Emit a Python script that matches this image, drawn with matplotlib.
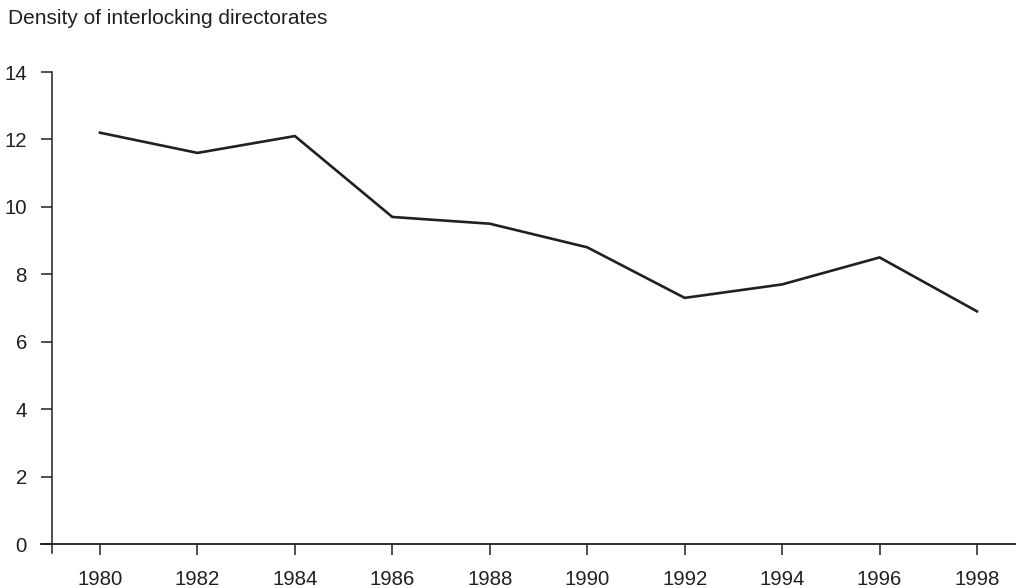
import matplotlib
matplotlib.use("Agg")
import matplotlib.pyplot as plt

years = [1980, 1982, 1984, 1986, 1988, 1990, 1992, 1994, 1996, 1998]
density = [12.2, 11.6, 12.1, 9.7, 9.5, 8.8, 7.3, 7.7, 8.5, 6.9]
yticks = [0, 2, 4, 6, 8, 10, 12, 14]
title = "Density of interlocking directorates"

plt.rcParams['font.family'] = ['Liberation Sans', 'DejaVu Sans']
col = '#231f20'

W, H = 1016, 588
fig = plt.figure(figsize=(W/100, H/100), dpi=100)
left, right = 52/W, 1.0
bottom, top = (H-544)/H, (H-72)/H
ax = fig.add_axes([left, bottom, right-left, top-bottom])

ax.plot(years, density, color=col, lw=1.9, solid_joinstyle='miter')
ax.set_xlim(1979.015, 1998.8)
ax.set_ylim(0, 14)
ax.set_xticks(years)
ax.set_yticks(yticks)
for s in ax.spines.values():
    s.set_visible(False)
ax.tick_params(axis='both', direction='out', length=8, width=1.1, color=col,
               labelsize=14.7, labelcolor=col)
ax.tick_params(axis='x', pad=11)
ax.tick_params(axis='y', pad=10)

# spines that cross each other
ax.plot([-11/(W-52), 1], [0, 0], transform=ax.transAxes, color=col, lw=1.3, clip_on=False)
ax.plot([0, 0], [-9/472, 1], transform=ax.transAxes, color=col, lw=1.1, clip_on=False)

fig.text(8/W, 1-19/H, title, fontsize=15, color=col, va='center', ha='left')

fig.savefig("out.png", dpi=100)
